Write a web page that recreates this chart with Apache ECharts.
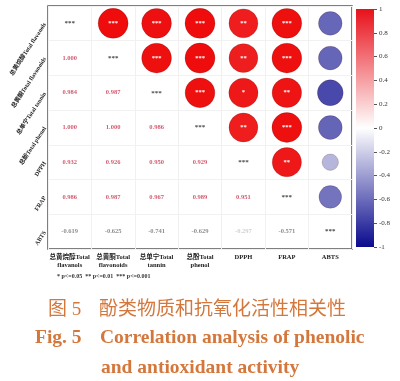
<!DOCTYPE html>
<html><head><meta charset="utf-8">
<script src="https://cdn.jsdelivr.net/npm/echarts@6/dist/echarts.min.js"></script>
<style>html,body{margin:0;padding:0;background:#fff}#c{width:400px;height:381px}</style>
</head><body><div id="c"></div>
<script>
// Variables (row/column order)
const variables = ['总黄烷醇Total flavanols','总黄酮Total flavonoids','总单宁Total tannin','总酚Total phenol','DPPH','FRAP','ABTS'];
const xTickLabels = ['总黄烷醇Total\nflavanols','总黄酮Total\nflavonoids','总单宁Total\ntannin','总酚Total\nphenol','DPPH','FRAP','ABTS'];
const yTickLabels = ['总黄烷醇Total flavanols','总黄酮Total flavonoids','总单宁Total tannin','总酚Total phenol','DPPH','FRAP','ABTS'];
// Lower-triangle correlation coefficients (row variable vs. earlier variables)
const r_flavonoids = [1.000];
const r_tannin     = [0.984, 0.987];
const r_phenol     = [1.000, 1.000, 0.986];
const r_DPPH       = [0.932, 0.926, 0.950, 0.929];
const r_FRAP       = [0.986, 0.987, 0.967, 0.989, 0.951];
const r_ABTS       = [-0.619, -0.625, -0.741, -0.629, -0.297, -0.571];
// Significance marks in the upper triangle (row variable vs. later variables)
const sig_flavanols  = ['***','***','***','**','***',''];
const sig_flavonoids = ['***','***','**','***',''];
const sig_tannin     = ['***','*','**',''];
const sig_phenol     = ['**','***',''];
const sig_DPPH       = ['**',''];
const sig_FRAP       = [''];
const diagMark = '***';
const colorbarTicks = [-1,-0.8,-0.6,-0.4,-0.2,0,0.2,0.4,0.6,0.8,1];

const lower = [[], r_flavonoids, r_tannin, r_phenol, r_DPPH, r_FRAP, r_ABTS];
const sigs = [sig_flavanols, sig_flavonoids, sig_tannin, sig_phenol, sig_DPPH, sig_FRAP, []];
const n = variables.length;

const circleData = [], textData = [], diagData = [];
for (let i = 0; i < n; i++) {
  diagData.push([i, i]);
  for (let j = 0; j < i; j++) {
    const v = lower[i][j];
    const col = v > 0 ? '#c5304a' : (Math.abs(v) > 0.4 ? '#707070' : '#c4c4c4');
    textData.push({value: [j, i, v], label: {color: col}});
    circleData.push({value: [i, j, v], sig: sigs[j][i - j - 1]});
  }
}

const serif = "'Liberation Serif','Noto Sans CJK SC',serif";
const titleColor = '#d4773c';
const T = (text, left, top, size, weight, color) => ({text, left, top, padding: 0,
  textStyle: {fontFamily: serif, fontSize: size, fontWeight: weight, color: color || titleColor}});
const chart = echarts.init(document.getElementById('c'), null, {renderer: 'canvas'});
chart.setOption({
  animation: false,
  backgroundColor: '#fff',
  title: [
    T('图 5', 48, 301, 19, 'normal'),
    T('酚类物质和抗氧化活性相关性', 99, 301, 19, 'normal'),
    T('Fig. 5', 35, 328, 19.5, 'bold'),
    T('Correlation analysis of phenolic', 100, 328, 19.5, 'bold'),
    T('and antioxidant activity', 101, 358, 19.5, 'bold'),
    T('* p<=0.05  ** p<=0.01  *** p<=0.001', 57, 273, 6, 'bold', '#333')
  ],
  grid: [
    {left: 48, top: 6, width: 304, height: 243, show: true, borderColor: '#555', borderWidth: 1.5, backgroundColor: '#fff'},
    {left: 356, top: 9, width: 18, height: 238}
  ],
  xAxis: [
    {type: 'category', data: xTickLabels, gridIndex: 0, position: 'bottom',
     axisLine: {show: false}, axisTick: {show: false},
     splitLine: {show: true, lineStyle: {color: '#f1f1f1', width: 1}},
     axisLabel: {interval: 0, margin: 5, fontFamily: serif, fontSize: 6.5, fontWeight: 'bold', color: '#222', lineHeight: 7.5}},
    {type: 'category', data: ['cb'], gridIndex: 1, show: false}
  ],
  yAxis: [
    {type: 'category', data: yTickLabels, gridIndex: 0, inverse: true,
     axisLine: {show: false}, axisTick: {show: false},
     splitLine: {show: true, lineStyle: {color: '#f1f1f1', width: 1}},
     axisLabel: {interval: 0, rotate: 57, margin: 3, fontFamily: serif, fontSize: 6, fontWeight: 'bold', color: '#222'}},
    {type: 'value', gridIndex: 1, min: -1, max: 1, interval: 0.2, position: 'right',
     axisLine: {show: false}, splitLine: {show: false},
     axisTick: {show: true, length: 3, lineStyle: {color: '#555'}},
     axisLabel: {margin: 5, fontFamily: serif, fontSize: 7, color: '#333',
       formatter: v => { const t = colorbarTicks.find(x => Math.abs(x - v) < 1e-6); return t === undefined ? '' : String(t); }}}
  ],
  visualMap: {
    show: false, type: 'continuous', seriesIndex: 0, dimension: 2, min: -1, max: 1,
    inRange: {color: ['#0a0a8e', '#ffffff', '#ee0c0c']}
  },
  series: [
    {type: 'scatter', xAxisIndex: 0, yAxisIndex: 0, data: circleData,
     symbolSize: val => 30 * Math.sqrt(Math.abs(val[2])),
     itemStyle: {opacity: 1, borderColor: 'rgba(60,0,0,0.18)', borderWidth: 1},
     label: {show: true, position: 'inside', formatter: p => p.data.sig, color: '#fff', fontSize: 6.5, fontFamily: serif, fontWeight: 'bold'},
     z: 3},
    {type: 'scatter', xAxisIndex: 0, yAxisIndex: 0, data: textData, symbolSize: 1,
     itemStyle: {color: 'rgba(0,0,0,0)'},
     label: {show: true, position: 'inside', formatter: p => p.data.value[2].toFixed(3), fontSize: 6.5, fontFamily: serif, fontWeight: 'bold'}},
    {type: 'scatter', xAxisIndex: 0, yAxisIndex: 0, data: diagData, symbolSize: 1,
     itemStyle: {color: 'rgba(0,0,0,0)'},
     label: {show: true, position: 'inside', formatter: () => diagMark, color: '#111', fontSize: 7, fontFamily: serif, fontWeight: 'bold'}},
    {type: 'bar', xAxisIndex: 1, yAxisIndex: 1, stack: 'cb', barWidth: '100%', data: [1],
     itemStyle: {color: new echarts.graphic.LinearGradient(0, 0, 0, 1, [{offset: 0, color: '#e8111b'}, {offset: 1, color: '#ffffff'}])}},
    {type: 'bar', xAxisIndex: 1, yAxisIndex: 1, stack: 'cb', barWidth: '100%', data: [-1],
     itemStyle: {color: new echarts.graphic.LinearGradient(0, 0, 0, 1, [{offset: 0, color: '#ffffff'}, {offset: 1, color: '#0a0a8e'}])}}
  ]
});
</script></body></html>
